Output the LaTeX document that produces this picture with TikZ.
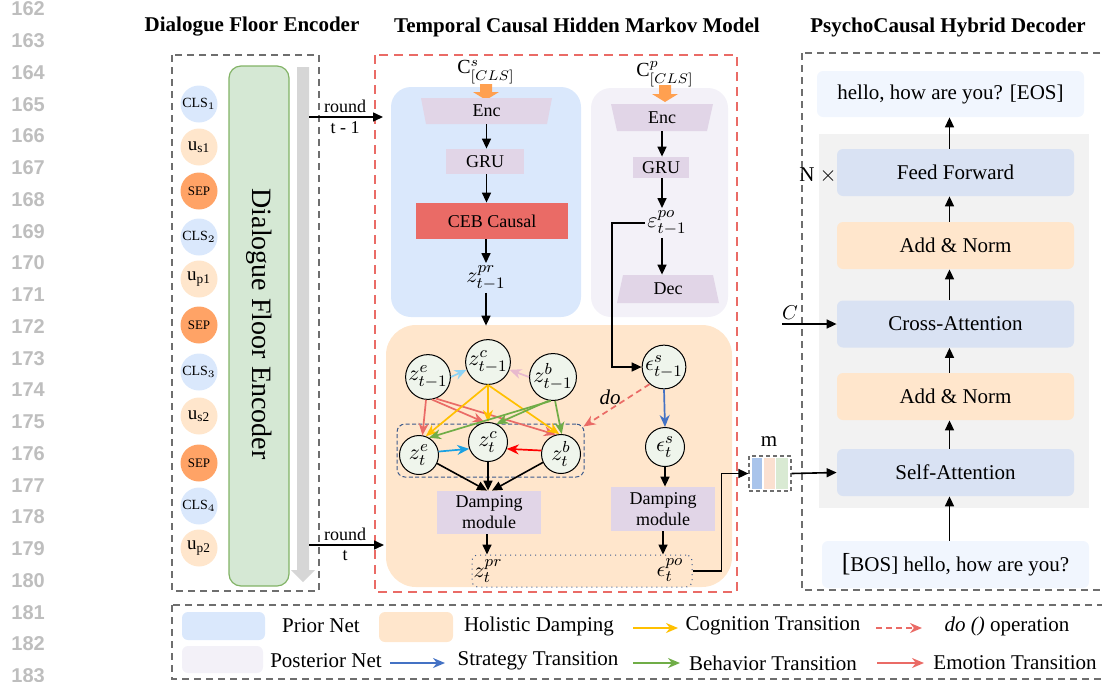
\documentclass[tikz,border=0pt]{standalone}
\usepackage{fontspec}
\setmainfont{Liberation Serif}
\newfontfamily\numfont{Liberation Sans}
\usetikzlibrary{arrows.meta}
\definecolor{priorblue}{HTML}{DAE8FC}
\definecolor{postgray}{HTML}{F3F1F8}
\definecolor{peach}{HTML}{FFE6CC}
\definecolor{sepor}{HTML}{FFA366}
\definecolor{encpurple}{HTML}{E1D5E7}
\definecolor{cebred}{HTML}{EA6B66}
\definecolor{greenbar}{HTML}{D5E8D4}
\definecolor{greenbd}{HTML}{82B366}
\definecolor{grayarrow}{HTML}{D6D6D6}
\definecolor{decblue}{HTML}{D9E2F3}
\definecolor{decgray}{HTML}{F2F2F2}
\definecolor{iolight}{HTML}{F1F6FE}
\definecolor{circfill}{HTML}{EFF5EC}
\definecolor{yel}{HTML}{FFC000}
\definecolor{grn}{HTML}{70AD47}
\definecolor{salmon}{HTML}{EA6B66}
\definecolor{skyb}{HTML}{8FD3F4}
\definecolor{cyanb}{HTML}{1BA1E2}
\definecolor{pinkb}{HTML}{E8B9CE}
\definecolor{stratb}{HTML}{4472C4}
\definecolor{orarrow}{HTML}{FFA050}
\definecolor{dkblue}{HTML}{3C5A8C}
\definecolor{lnum}{HTML}{BEBEBE}
\definecolor{dgray}{HTML}{6E6E6E}
\definecolor{redbox}{HTML}{EA6B66}
\definecolor{mblue}{HTML}{A9C4EB}
\definecolor{mpeach}{HTML}{FBE0D0}
\definecolor{mgreen}{HTML}{D9EAD3}
\begin{document}
\begin{tikzpicture}[x=0.5pt,y=-0.5pt,
  every node/.style={inner sep=0pt},
  fnine/.style={font=\fontsize{9}{11}\selectfont},
  ften/.style={font=\fontsize{10.5}{12.5}\selectfont},
  mth/.style={font=\fontsize{11}{13}\selectfont},
  blk/.style={draw=black, line width=0.8pt, -{Triangle[length=5pt,width=4.5pt]}},
  carr/.style={line width=0.85pt, -{Stealth[length=6pt,width=5pt]}},
  gbox/.style={draw=dgray, line width=0.75pt, dash pattern=on 3.5pt off 2.5pt},
  zc/.style={circle, draw=black, line width=0.5pt, fill=circfill, minimum size=19.5pt, font=\fontsize{11}{13}\selectfont},
  tok/.style={circle, minimum size=18.5pt, font=\fontsize{7}{8}\selectfont},
  modbox/.style={fill=encpurple, font=\fontsize{9}{10.5}\selectfont, align=center},
  decbox/.style={rounded corners=3pt, minimum width=118.5pt, minimum height=23.5pt, font=\fontsize{10.5}{12.5}\selectfont},
  ttl/.style={font=\fontsize{10.5}{12.5}\selectfont\bfseries},
]
\useasboundingbox (0,0) rectangle (1102,681);
\clip (0,0) rectangle (1102,681);

% line numbers
\foreach \n in {162,...,183}
  \node[anchor=west, text=lnum, font=\fontsize{10}{12}\selectfont\numfont\bfseries] at (11,{9+(\n-162)*31.75}) {\n};

% titles
\node[ttl] (t-dfe) at (252,27) {Dialogue Floor Encoder};
\node[ttl] (t-tc) at (577,27) {Temporal Causal Hidden Markov Model};
\node[ttl] (t-pc) at (948,27) {PsychoCausal Hybrid Decoder};

% ---------------- left block
\draw[gbox] (172,55) rectangle (319,591);
\node[draw=greenbd, fill=greenbar, rounded corners=6pt, minimum width=30pt, minimum height=260pt, line width=0.6pt] (dfe) at (259,326) {};
\node[rotate=-90, font=\fontsize{14}{16}\selectfont] (dfetext) at (259,324) {Dialogue Floor Encoder};
\fill[grayarrow] (297,67) -- (309,67) -- (309,570) -- (315,570) -- (303,582) -- (291,570) -- (297,570) -- cycle;

\node[tok, fill=priorblue] (tk1) at (199,104) {CLS$_1$};
\node[tok, fill=peach, font=\fontsize{9.5}{10}\selectfont] (tk2) at (199,147) {u$_{\mathrm{s1}}$};
\node[tok, fill=sepor, font=\fontsize{6.5}{8}\selectfont] (tk3) at (199,191) {SEP};
\node[tok, fill=priorblue] (tk4) at (199,237) {CLS$_2$};
\node[tok, fill=peach, font=\fontsize{9.5}{10}\selectfont] (tk5) at (199,279) {u$_{\mathrm{p1}}$};
\node[tok, fill=sepor, font=\fontsize{6.5}{8}\selectfont] (tk6) at (199,325) {SEP};
\node[tok, fill=priorblue] (tk7) at (199,372) {CLS$_3$};
\node[tok, fill=peach, font=\fontsize{9.5}{10}\selectfont] (tk8) at (199,416) {u$_{\mathrm{s2}}$};
\node[tok, fill=sepor, font=\fontsize{6.5}{8}\selectfont] (tk9) at (199,463) {SEP};
\node[tok, fill=priorblue] (tk10) at (199,506) {CLS$_4$};
\node[tok, fill=peach, font=\fontsize{9.5}{10}\selectfont] (tk11) at (199,548) {u$_{\mathrm{p2}}$};

% ---------------- middle block
\draw[draw=redbox, line width=1.4pt, dash pattern=on 4.5pt off 3pt] (375,55) rectangle (737,592);
\node[fill=priorblue, rounded corners=10pt, minimum width=95pt, minimum height=115pt] (prior) at (486,202) {};
\node[fill=postgray, rounded corners=10pt, minimum width=68.5pt, minimum height=114.5pt] (post) at (659.5,202.5) {};
\node[fill=peach, rounded corners=15pt, minimum width=173pt, minimum height=131pt] (hd) at (559,456) {};

% round arrows
\coordinate (r1) at (309,117);
\coordinate (r1e) at (383,117);
\coordinate (r2) at (309,545);
\coordinate (r2e) at (384,545);
\draw[blk] (r1) -- (r1e);
\draw[blk] (r2) -- (r2e);
\node[fnine] (rl1) at (345,106) {round};
\node[fnine] (rl2) at (345,128) {t - 1};
\node[fnine] (rl3) at (345,534) {round};
\node[fnine] (rl4) at (345,556) {t};

% prior net
\node[mth, font=\fontsize{10}{12}\selectfont] (cs) at (486,72) {$\mathrm{C}^{s}_{[CLS]}$};
\fill[orarrow] (480,84) -- (492,84) -- (492,92) -- (499,92) -- (486,100) -- (473,92) -- (480,92) -- cycle;
\fill[encpurple] (421,98) -- (552,98) -- (547,124) -- (426,124) -- cycle;
\node[fnine, minimum width=63pt, minimum height=13pt] (enc1) at (486.5,111) {Enc};
\node[modbox, minimum width=39pt, minimum height=12.5pt] (gru1) at (485,161.5) {GRU};
\node[fill=cebred, fnine, minimum width=76pt, minimum height=18pt] (ceb) at (492,221) {CEB Causal};
\node[mth, inner sep=1pt] (zpr1) at (486,278) {$z^{pr}_{t-1}$};
\draw[blk] (enc1.south) -- (enc1.south |- gru1.north);
\draw[blk] (gru1.south -| enc1.south) -- (enc1.south |- ceb.north);
\draw[blk] (ceb.south -| zpr1) -- (zpr1.north);
\draw[blk] (zpr1.south) -- ([yshift=-0.5pt]zpr1.south |- hd.north);

% posterior net
\node[mth, font=\fontsize{10}{12}\selectfont] (cp) at (665,74) {$\mathrm{C}^{p}_{[CLS]}$};
\fill[orarrow] (659,85) -- (671,85) -- (671,94) -- (678,94) -- (665,102) -- (652,94) -- (659,94) -- cycle;
\fill[encpurple] (611,104) -- (713,104) -- (707,131) -- (617,131) -- cycle;
\node[fnine, minimum width=48pt, minimum height=13.5pt] (enc2) at (662,117.5) {Enc};
\node[modbox, minimum width=28pt, minimum height=10.5pt] (gru2) at (661,167.5) {GRU};
\node[mth, inner sep=1pt] (epo1) at (667,223) {$\varepsilon^{po}_{t-1}$};
\fill[encpurple] (623,275) -- (713,275) -- (719,303) -- (617,303) -- cycle;
\node[fnine, minimum width=48pt, minimum height=14pt] (dec) at (668,289) {Dec};
\draw[blk] (enc2.south) -- (enc2.south |- gru2.north);
\draw[blk] (gru2.south -| enc2.south) -- (enc2.south |- epo1.north);
\draw[blk] (epo1.south -| enc2.south) -- (enc2.south |- dec.north);

% holistic damping
\node[draw=dkblue, line width=0.5pt, dash pattern=on 2pt off 1.2pt, rounded corners=4pt, minimum width=93.5pt, minimum height=26.5pt] (dbox) at (490.5,450.5) {};
\node[zc] (ze1) at (428,377) {$z^{e}_{t-1}$};
\node[zc] (zc1) at (488,362) {$z^{c}_{t-1}$};
\node[zc] (zb1) at (553,377) {$z^{b}_{t-1}$};
\node[zc] (zet) at (419,455) {$z^{e}_{t}$};
\node[zc] (zct) at (488,442) {$z^{c}_{t}$};
\node[zc] (zbt) at (561,454) {$z^{b}_{t}$};
\node[zc] (es1) at (664,367) {$\epsilon^{s}_{t-1}$};
\node[zc] (es2) at (665,447) {$\epsilon^{s}_{t}$};

% transitions
\draw[carr, skyb] (ze1.east) -- (zc1.-160);
\draw[carr, pinkb] (zb1.west) -- (zc1.-20);
\draw[carr, salmon] (ze1.-95) -- (zet.80);
\draw[carr, salmon] (ze1.-80) -- (zct.100);
\draw[carr, salmon] (ze1.-70) -- (zbt.105);
\draw[carr, yel] (zc1.south) -- (zet.70);
\draw[carr, yel] (zc1.south) -- (zct.north);
\draw[carr, yel] (zc1.south) -- (zbt.95);
\draw[carr, grn] (zb1.-95) -- (zet.60);
\draw[carr, grn] (zb1.-100) -- (zct.65);
\draw[carr, grn] (zb1.-85) -- (zbt.88);
\draw[carr, cyanb] (zet.10) -- (zct.-160);
\draw[carr, red] (zbt.170) -- (zct.-20);
\draw[carr, stratb] (es1.south) -- (es2.north);
\draw[carr, salmon, dash pattern=on 3pt off 2pt] (es1.-130) -- ([xshift=-0.5pt,yshift=-1.5pt]dbox.north east);
\node[font=\fontsize{10.5}{12}\selectfont\itshape] (dolab) at (610,397) {do};

% black line to eps_{t-1}^s
\draw[blk] (epo1.west) -- ++(-33,0) |- (es1.west);

% damping modules
\node[modbox, minimum width=52pt, minimum height=21.5pt] (dampL) at (489,512.5) {Damping\\module};
\node[modbox, minimum width=52pt, minimum height=22pt] (dampR) at (663,509) {Damping\\module};
\draw[blk] (zet.-25) -- ([xshift=-1pt]dampL.north);
\draw[blk] (zct.south) -- (zct.south |- dampL.north);
\draw[blk] (zbt.-155) -- ([xshift=1.5pt]dampL.north);
\draw[blk] (es2.south) -- (es2.south |- dampR.north);

\node[draw=dkblue, line width=0.5pt, dotted, rounded corners=3pt, minimum width=110pt, minimum height=16pt] (dotbox) at (582,571) {};
\node[mth, inner sep=1pt] (zprt) at (488,571) {$z^{pr}_{t}$};
\node[mth, inner sep=1pt] (eport) at (670,570) {$\epsilon^{po}_{t}$};
\draw[blk] ([xshift=-1pt]dampL.south) -- ([xshift=-1pt]dampL.south |- dotbox.north);
\draw[blk] (dampR.south) -- (dampR.south |- dotbox.north);

% m vector
\node[draw=dgray, line width=0.6pt, dash pattern=on 2pt off 1.5pt, minimum width=21pt, minimum height=17.5pt] (mbox) at (770,473.5) {};
\fill[mblue] (752,458) rectangle (762,489);
\fill[mpeach] (764,458) rectangle (775,489);
\fill[mgreen] (776,458) rectangle (788,489);
\node[ften] (mlab) at (769,442) {m};
\draw[blk] (dotbox.east) -- ++(29,0) |- (mbox.west);

% ---------------- decoder
\draw[gbox] (802,53) rectangle (1110,590);
\fill[decgray] (819,134) rectangle (1089,508);
\node[decbox, fill=iolight, minimum width=133.5pt, minimum height=23pt] (eos) at (950.5,94) {hello, how are you? [EOS]};
\node[decbox, fill=decblue] (ff) at (955.5,172.5) {Feed Forward};
\node[decbox, fill=peach] (an1) at (955.5,245.5) {Add \& Norm};
\node[decbox, fill=decblue] (ca) at (955.5,324) {Cross-Attention};
\node[decbox, fill=peach] (an2) at (955.5,396.5) {Add \& Norm};
\node[decbox, fill=decblue] (sa) at (955.5,472.5) {Self-Attention};
\node[decbox, fill=iolight, minimum width=133.5pt] (bos) at (955.5,564.5) {{\fontsize{13}{13}\selectfont[}BOS] hello, how are you?};
\draw[blk] ([xshift=-3pt]ff.north) -- ([xshift=-3pt]ff.north |- eos.south);
\draw[blk] ([xshift=-3pt]an1.north) -- ([xshift=-3pt]an1.north |- ff.south);
\draw[blk] ([xshift=-3pt]ca.north) -- ([xshift=-3pt]ca.north |- an1.south);
\draw[blk] ([xshift=-3pt]an2.north) -- ([xshift=-3pt]an2.north |- ca.south);
\draw[blk] ([xshift=-3pt]sa.north) -- ([xshift=-3pt]sa.north |- an2.south);
\draw[blk] ([xshift=-3pt]bos.north) -- ([xshift=-3pt]bos.north |- sa.south);
\draw[blk] (mbox.east) -- (sa.west);
\node[ften] (nx) at (818,176) {N $\times$};
\coordinate (cin) at (782,324);
\draw[blk] (cin) -- (ca.west);
\node[font=\fontsize{10}{12}\selectfont] (clab) at (790,313) {$C$};

% ---------------- legend
\draw[gbox] (172,605) rectangle (1110,679);
\node[fill=priorblue, rounded corners=3pt, minimum width=41.5pt, minimum height=14pt] (lg1) at (223.5,626) {};
\node[fill=postgray, rounded corners=3pt, minimum width=40.5pt, minimum height=13.5pt] (lg2) at (222.5,659.5) {};
\node[fill=peach, rounded corners=3pt, minimum width=37pt, minimum height=15pt] (lg3) at (416,627) {};
\node[ften] (lt1) at (321,626) {Prior Net};
\node[ften] (lt2) at (326,661) {Posterior Net};
\node[ften] (lt3) at (539,626) {Holistic Damping};
\node[ften] (lt4) at (538,661) {Strategy Transition};
\node[ften] (lt5) at (773,626) {Cognition Transition};
\node[ften] (lt6) at (1007,626) {\textit{do ()} operation};
\node[ften] (lt7) at (773,663) {Behavior Transition};
\node[ften] (lt8) at (1015,663) {Emotion Transition};
\coordinate (la1) at (390,663); \coordinate (lb1) at (445,663);
\coordinate (la2) at (633,628); \coordinate (lb2) at (678,628);
\coordinate (la3) at (876,628); \coordinate (lb3) at (922,628);
\coordinate (la4) at (633,663); \coordinate (lb4) at (680,663);
\coordinate (la5) at (877,663); \coordinate (lb5) at (924,663);
\draw[carr, stratb] (la1) -- (lb1);
\draw[carr, yel] (la2) -- (lb2);
\draw[carr, salmon, dash pattern=on 3pt off 2pt] (la3) -- (lb3);
\draw[carr, grn] (la4) -- (lb4);
\draw[carr, salmon] (la5) -- (lb5);
\end{tikzpicture}
\end{document}
